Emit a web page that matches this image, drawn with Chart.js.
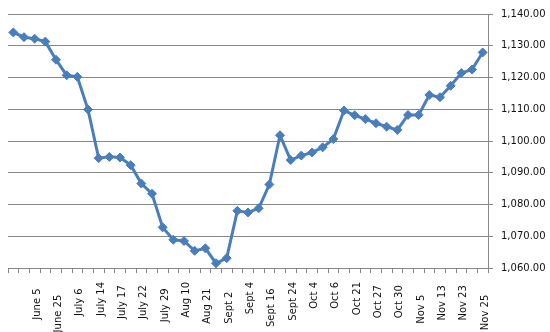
<!DOCTYPE html>
<html>
<head>
<meta charset="utf-8">
<script src="https://cdn.jsdelivr.net/npm/chart.js@4/dist/chart.umd.min.js"></script>
<style>
  html, body { margin: 0; padding: 0; background: #fff; }
  #wrap { width: 550px; height: 332px; }
</style>
</head>
<body>
<div id="wrap"><canvas id="c" width="550" height="332"></canvas></div>
<script>
// Trading dates (only every other session carries a label; the source
// labels keep their trailing spaces, which shifts them away from the axis)
const dates = [
  '', '', 'June 5  ', '', 'June 25    ', '', 'July 6  ', '', 'July 14', '',
  'July 17 ', '', 'July 22 ', '', 'July 29  ', '', 'Aug 10', '', 'Aug 21  ', '',
  'Sept 2   ', '', 'Sept 4', '', 'Sept 16  ', '', 'Sept 24', '', 'Oct 4', '',
  'Oct 6', '', 'Oct 21', '', 'Oct 27 ', '', 'Oct 30 ', '', 'Nov 5    ', '',
  'Nov 13 ', '', 'Nov 23 ', '', 'Nov 25    '
];

// Closing index level per session
const closes = [
  1134.2, 1132.7, 1132.2, 1131.3, 1125.6, 1120.7, 1120.2, 1109.9, 1094.6, 1095.0,
  1094.8, 1092.4, 1086.6, 1083.4, 1072.8, 1068.9, 1068.5, 1065.4, 1066.2, 1061.5,
  1063.1, 1078.0, 1077.5, 1078.8, 1086.3, 1101.8, 1094.0, 1095.4, 1096.4, 1098.0,
  1100.6, 1109.6, 1108.1, 1106.9, 1105.6, 1104.5, 1103.5, 1108.2, 1108.2, 1114.5,
  1113.8, 1117.4, 1121.4, 1122.5, 1127.9
];

// Value axis range
const yMin = 1060;
const yMax = 1140;
const yStep = 10;

const lineBlue = '#4a7ebb';
const axisGray = '#888888';
const tickFont = { family: 'DejaVu Sans', size: 10 };

new Chart(document.getElementById('c'), {
  type: 'line',
  data: {
    labels: dates,
    datasets: [{
      data: closes,
      borderColor: lineBlue,
      backgroundColor: lineBlue,
      borderWidth: 3,
      tension: 0,
      pointStyle: 'rectRot',
      pointRadius: 4.5,
      pointBorderWidth: 1,
      pointBackgroundColor: lineBlue,
      pointBorderColor: lineBlue
    }]
  },
  options: {
    responsive: false,
    animation: false,
    layout: { padding: { left: 8, top: 12, right: 0, bottom: 0 } },
    plugins: {
      legend: { display: false },
      tooltip: { enabled: false }
    },
    scales: {
      x: {
        offset: true,
        grid: {
          offset: true,
          drawOnChartArea: false,
          color: axisGray,
          tickColor: axisGray,
          tickLength: 5
        },
        border: { color: axisGray, width: 1 },
        ticks: {
          autoSkip: false,
          maxRotation: 90,
          minRotation: 90,
          padding: 9,
          labelOffset: 2.5,
          font: tickFont,
          color: '#111'
        },
        afterFit(scale) { scale.height = 64; }
      },
      y: {
        position: 'right',
        min: yMin,
        max: yMax,
        grid: { color: axisGray, tickColor: axisGray, tickLength: 5 },
        border: { color: axisGray, width: 1 },
        ticks: {
          stepSize: yStep,
          padding: 8,
          font: tickFont,
          color: '#111',
          callback: v => v.toLocaleString('en-US', { minimumFractionDigits: 2, maximumFractionDigits: 2 })
        },
        afterFit(scale) { scale.width = 62; }
      }
    }
  }
});
</script>
</body>
</html>
